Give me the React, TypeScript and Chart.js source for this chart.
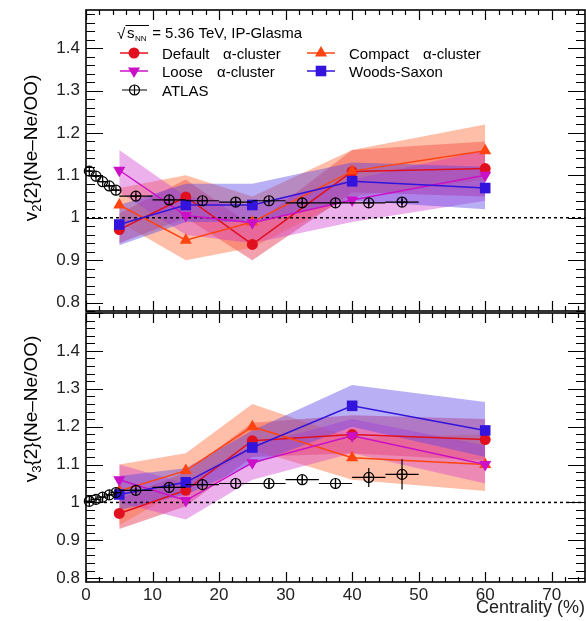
import React, { useEffect, useRef } from 'react';
import { Chart, registerables } from 'chart.js';

Chart.register(...registerables);

// ---------------- data ----------------
const centrality = [5, 15, 25, 40, 60];

// v2 ratio (top panel)
const v2Default = [0.972, 1.049, 0.937, 1.109, 1.116];
const v2DefaultLo = [0.94, 1.0, 0.9, 1.06, 1.05];
const v2DefaultHi = [1.01, 1.09, 0.98, 1.16, 1.18];
const v2Compact = [1.03, 0.947, 0.99, 1.11, 1.158];
const v2CompactLo = [0.99, 0.9, 0.93, 1.05, 1.09];
const v2CompactHi = [1.07, 1.1, 1.05, 1.16, 1.22];
const v2Loose = [1.112, 1.005, 0.988, 1.042, 1.1];
const v2LooseLo = [1.06, 0.96, 0.94, 0.99, 1.04];
const v2LooseHi = [1.16, 1.05, 1.03, 1.09, 1.16];
const v2WS = [0.984, 1.03, 1.03, 1.086, 1.07];
const v2WSLo = [0.935, 0.99, 0.99, 1.04, 1.02];
const v2WSHi = [1.03, 1.08, 1.08, 1.13, 1.12];

// v3 ratio (bottom panel)
const v3Default = [0.971, 1.032, 1.163, 1.179, 1.166];
const v3DefaultLo = [0.93, 0.99, 1.12, 1.13, 1.11];
const v3DefaultHi = [1.01, 1.08, 1.21, 1.23, 1.22];
const v3Compact = [1.03, 1.084, 1.2, 1.118, 1.1];
const v3CompactLo = [0.94, 1.04, 1.14, 1.06, 1.03];
const v3CompactHi = [1.1, 1.13, 1.26, 1.17, 1.18];
const v3Loose = [1.06, 1.005, 1.105, 1.176, 1.1];
const v3LooseLo = [1.0, 0.955, 1.06, 1.13, 1.05];
const v3LooseHi = [1.1, 1.05, 1.15, 1.22, 1.15];
const v3WS = [1.021, 1.053, 1.145, 1.255, 1.19];
const v3WSLo = [0.98, 1.02, 1.1, 1.2, 1.12];
const v3WSHi = [1.07, 1.09, 1.19, 1.31, 1.265];

// ATLAS data
const atlasX = [0.5, 1.5, 2.5, 3.5, 4.5, 7.5, 12.5, 17.5, 22.5, 27.5, 32.5, 37.5, 42.5, 47.5];
const atlasXErr = [0.5, 0.5, 0.5, 0.5, 0.5, 2.5, 2.5, 2.5, 2.5, 2.5, 2.5, 2.5, 2.5, 2.5];
const atlasV2 = [1.11, 1.098, 1.085, 1.075, 1.065, 1.051, 1.042, 1.04, 1.037, 1.04, 1.035, 1.035, 1.035, 1.037];
const atlasV2Err = [0.004, 0.004, 0.004, 0.004, 0.004, 0.004, 0.004, 0.004, 0.004, 0.004, 0.005, 0.005, 0.006, 0.007];
const atlasV3 = [1.003, 1.008, 1.014, 1.02, 1.026, 1.032, 1.04, 1.047, 1.05, 1.05, 1.06, 1.05, 1.066, 1.074];
const atlasV3Err = [0.005, 0.005, 0.005, 0.005, 0.005, 0.006, 0.006, 0.007, 0.008, 0.01, 0.01, 0.012, 0.025, 0.04];

// reference line
const refX = [0, 75];
const refY = [1, 1];

const seriesNames = ['Default', 'Compact', 'Loose', 'Woods-Saxon', 'ATLAS'];
const clusterSuffix = 'α-cluster';
const headerText = ' = 5.36 TeV, IP-Glasma';
const xTitle = 'Centrality (%)';

// ---------------- styles ----------------
const FONT = '"Liberation Sans", Arial, Helvetica, sans-serif';
const C_DEF = '#e0101e';
const C_CMP = '#ff4412';
const C_LOO = '#cc10c8';
const C_WS = '#3214dc';
const B_DEF = 'rgba(225,30,60,0.42)';
const B_CMP = 'rgba(255,110,60,0.45)';
const B_LOO = 'rgba(205,50,205,0.38)';
const B_WS = 'rgba(85,65,230,0.42)';

type Sty = 'circle' | 'triangle' | 'triangleDown' | 'rect';

function drawMarker(ctx: CanvasRenderingContext2D, s: Sty, x: number, y: number, r: number, color: string) {
  ctx.save();
  ctx.fillStyle = color;
  ctx.beginPath();
  if (s === 'circle') {
    ctx.arc(x, y, r, 0, Math.PI * 2);
  } else if (s === 'rect') {
    const h = r * Math.SQRT1_2;
    ctx.rect(x - h, y - h, 2 * h, 2 * h);
  } else {
    const sign = s === 'triangle' ? 1 : -1;
    let a = 0;
    for (let i = 0; i < 3; i++) {
      const px = x + Math.sin(a) * r;
      const py = y - sign * Math.cos(a) * r;
      if (i === 0) ctx.moveTo(px, py);
      else ctx.lineTo(px, py);
      a += (2 * Math.PI) / 3;
    }
    ctx.closePath();
  }
  ctx.fill();
  ctx.restore();
}

function modelSets(label: string, ys: number[], lo: number[], hi: number[], color: string, band: string, style: string, rot: number, radius: number, order: number) {
  return [
    {
      label: label + ' upper',
      data: centrality.map((x, i) => ({ x, y: hi[i] })),
      borderWidth: 0,
      borderColor: 'rgba(0,0,0,0)',
      pointRadius: 0,
      fill: false,
      order: order + 10,
    },
    {
      label: label + ' lower',
      data: centrality.map((x, i) => ({ x, y: lo[i] })),
      borderWidth: 0,
      borderColor: 'rgba(0,0,0,0)',
      backgroundColor: band,
      pointRadius: 0,
      fill: '-1',
      order: order + 10,
    },
    {
      label,
      data: centrality.map((x, i) => ({ x, y: ys[i] })),
      borderColor: color,
      borderWidth: 1.5,
      pointStyle: style,
      pointRotation: rot,
      pointRadius: radius,
      pointBackgroundColor: color,
      pointBorderColor: color,
      pointBorderWidth: 0,
      fill: false,
      clip: false,
      order,
    },
  ];
}

function atlasSets(ys: number[]) {
  const data = atlasX.map((x, i) => ({ x, y: ys[i] }));
  return [
    {
      label: 'ATLAS',
      data,
      showLine: false,
      pointStyle: 'circle',
      pointRadius: 5,
      pointBackgroundColor: 'rgba(0,0,0,0)',
      pointBorderColor: '#000',
      pointBorderWidth: 1.2,
      clip: false,
      order: 0,
    },
    {
      label: 'ATLAS cross',
      data,
      showLine: false,
      pointStyle: 'cross',
      pointRadius: 5,
      pointBorderColor: '#000',
      pointBorderWidth: 1.2,
      clip: false,
      order: 0,
    },
  ];
}

function drawYTitle(ctx: CanvasRenderingContext2D, cx: number, cy: number, sub: string) {
  ctx.save();
  ctx.translate(cx, cy);
  ctx.rotate(-Math.PI / 2);
  const big = `19px ${FONT}`;
  const small = `13px ${FONT}`;
  const rest = '{2}(Ne–Ne/OO)';
  ctx.font = big;
  const w1 = ctx.measureText('v').width;
  const w3 = ctx.measureText(rest).width;
  ctx.font = small;
  const w2 = ctx.measureText(sub).width;
  let x = -(w1 + w2 + w3) / 2;
  const base = 6;
  ctx.fillStyle = '#000';
  ctx.textBaseline = 'alphabetic';
  ctx.font = big;
  ctx.fillText('v', x, base);
  x += w1;
  ctx.font = small;
  ctx.fillText(sub, x, base + 4);
  x += w2;
  ctx.font = big;
  ctx.fillText(rest, x, base);
  ctx.restore();
}

function drawLegend(ctx: CanvasRenderingContext2D) {
  ctx.save();
  ctx.fillStyle = '#000';
  ctx.strokeStyle = '#000';
  ctx.textBaseline = 'alphabetic';
  // header
  const hb = 38;
  ctx.font = `15px ${FONT}`;
  ctx.fillText('√', 117, hb + 1);
  ctx.lineWidth = 1;
  ctx.beginPath();
  ctx.moveTo(125.5, hb - 12.5);
  ctx.lineTo(149, hb - 12.5);
  ctx.stroke();
  ctx.fillText('s', 127, hb);
  ctx.font = `8px ${FONT}`;
  ctx.fillText('NN', 135, hb + 3);
  ctx.font = `15px ${FONT}`;
  ctx.fillText(headerText, 148, hb);

  const entry = (x0: number, y: number, color: string, sty: Sty, r: number, name: string, suffixX: number | null) => {
    ctx.save();
    ctx.strokeStyle = color;
    ctx.lineWidth = 1.5;
    ctx.beginPath();
    ctx.moveTo(x0, y);
    ctx.lineTo(x0 + 28, y);
    ctx.stroke();
    ctx.restore();
    drawMarker(ctx, sty, x0 + 14, y, r, color);
    ctx.fillStyle = '#000';
    ctx.font = `15px ${FONT}`;
    ctx.fillText(name, x0 + 42, y + 5.5);
    if (suffixX !== null) ctx.fillText(clusterSuffix, suffixX, y + 5.5);
  };
  entry(120, 53, C_DEF, 'circle', 5.5, seriesNames[0], 223);
  entry(307, 53, C_CMP, 'triangle', 7, seriesNames[1], 423);
  entry(120, 71, C_LOO, 'triangleDown', 7, seriesNames[2], 217);
  entry(307, 71, C_WS, 'rect', 7.5, seriesNames[3], null);
  // ATLAS entry
  const ay = 90;
  ctx.lineWidth = 1.2;
  ctx.beginPath();
  ctx.moveTo(122, ay);
  ctx.lineTo(147, ay);
  ctx.moveTo(134.5, ay - 5);
  ctx.lineTo(134.5, ay + 5);
  ctx.stroke();
  ctx.beginPath();
  ctx.arc(134.5, ay, 5, 0, Math.PI * 2);
  ctx.stroke();
  ctx.font = `15px ${FONT}`;
  ctx.fillText(seriesNames[4], 162, ay + 5.5);
  ctx.restore();
}

function makeDecor(opts: { titleSub: string; titleCy: number; legend: boolean; atlasY: number[]; atlasYErr: number[] }) {
  return {
    id: 'decor',
    afterDatasetsDraw(chart: any) {
      const ctx: CanvasRenderingContext2D = chart.ctx;
      const xs = chart.scales.x;
      const ys = chart.scales.y;
      // ATLAS error bars
      ctx.save();
      ctx.strokeStyle = '#000';
      ctx.lineWidth = 1.2;
      ctx.beginPath();
      atlasX.forEach((x, i) => {
        const y = ys.getPixelForValue(opts.atlasY[i]);
        const xl = xs.getPixelForValue(x - atlasXErr[i]);
        const xr = xs.getPixelForValue(x + atlasXErr[i]);
        ctx.moveTo(xl, y);
        ctx.lineTo(xr, y);
        const px = xs.getPixelForValue(x);
        const yt = ys.getPixelForValue(opts.atlasY[i] + opts.atlasYErr[i]);
        const yb = ys.getPixelForValue(opts.atlasY[i] - opts.atlasYErr[i]);
        ctx.moveTo(px, yt);
        ctx.lineTo(px, yb);
      });
      ctx.stroke();
      ctx.restore();
    },
    afterDraw(chart: any) {
      const ctx: CanvasRenderingContext2D = chart.ctx;
      const a = chart.chartArea;
      const xs = chart.scales.x;
      const ys = chart.scales.y;
      ctx.save();
      ctx.strokeStyle = '#000';
      ctx.lineWidth = 1.2;
      ctx.beginPath();
      // y ticks (left and right, inward)
      const kMin = Math.ceil(ys.min * 50 - 1e-6);
      const kMax = Math.floor(ys.max * 50 + 1e-6);
      for (let k = kMin; k <= kMax; k++) {
        const y = Math.round(ys.getPixelForValue(k / 50)) + 0.5;
        const len = k % 5 === 0 ? 17 : 9;
        ctx.moveTo(a.left, y);
        ctx.lineTo(a.left + len, y);
        ctx.moveTo(a.right, y);
        ctx.lineTo(a.right - len, y);
      }
      // x ticks (top and bottom, inward)
      for (let v = 0; v <= 75; v += 2) {
        const x = Math.round(xs.getPixelForValue(v)) + 0.5;
        const len = v % 10 === 0 ? 10 : 5;
        ctx.moveTo(x, a.bottom);
        ctx.lineTo(x, a.bottom - len);
        ctx.moveTo(x, a.top);
        ctx.lineTo(x, a.top + len);
      }
      ctx.stroke();
      ctx.lineWidth = 1.6;
      ctx.strokeRect(a.left, a.top, a.right - a.left, a.bottom - a.top);
      ctx.restore();
      drawYTitle(ctx, 31, opts.titleCy, opts.titleSub);
      if (opts.legend) drawLegend(ctx);
    },
  };
}

function yTickLabel(v: any) {
  const r = Math.round(Number(v) * 10) / 10;
  if (r > 1.45) return '';
  return String(r);
}

function buildConfig(panel: 'top' | 'bottom') {
  const top = panel === 'top';
  const datasets: any[] = [
    ...atlasSets(top ? atlasV2 : atlasV3),
    {
      label: 'ref',
      data: refX.map((x, i) => ({ x, y: refY[i] })),
      borderColor: '#000',
      borderWidth: 1.5,
      borderDash: [3, 3],
      pointRadius: 0,
      fill: false,
      order: 5,
    },
    ...modelSets('Default α-cluster', top ? v2Default : v3Default, top ? v2DefaultLo : v3DefaultLo, top ? v2DefaultHi : v3DefaultHi, C_DEF, B_DEF, 'circle', 0, 5.5, 4),
    ...modelSets('Compact α-cluster', top ? v2Compact : v3Compact, top ? v2CompactLo : v3CompactLo, top ? v2CompactHi : v3CompactHi, C_CMP, B_CMP, 'triangle', 0, 7, 3),
    ...modelSets('Loose α-cluster', top ? v2Loose : v3Loose, top ? v2LooseLo : v3LooseLo, top ? v2LooseHi : v3LooseHi, C_LOO, B_LOO, 'triangle', 180, 7, 2),
    ...modelSets('Woods-Saxon', top ? v2WS : v3WS, top ? v2WSLo : v3WSLo, top ? v2WSHi : v3WSHi, C_WS, B_WS, 'rect', 0, 7.5, 1),
  ];
  return {
    type: 'line' as const,
    data: { datasets },
    options: {
      animation: false as const,
      responsive: false,
      maintainAspectRatio: false,
      devicePixelRatio: 1,
      events: [],
      layout: {
        autoPadding: false,
        padding: top ? { top: 10, right: 1, bottom: 1, left: 0 } : { top: 1, right: 1, bottom: 2, left: 0 },
      },
      elements: { line: { tension: 0 } },
      plugins: { legend: { display: false }, tooltip: { enabled: false } },
      scales: {
        x: {
          type: 'linear' as const,
          min: 0,
          max: 75,
          display: !top,
          grid: { display: false, drawTicks: false },
          border: { display: false },
          ticks: {
            stepSize: 10,
            includeBounds: false,
            padding: 3,
            color: '#222',
            font: { family: FONT, size: 17 },
            maxRotation: 0,
          },
          title: {
            display: !top,
            text: xTitle,
            align: 'end' as const,
            color: '#222',
            font: { family: FONT, size: 18 },
            padding: 0,
          },
          afterFit: (s: any) => {
            s.height = top ? 0 : 37;
            s.paddingLeft = 0;
            s.paddingRight = 0;
          },
        },
        y: {
          type: 'linear' as const,
          min: top ? 0.78 : 0.79,
          max: top ? 1.49 : 1.5,
          grid: { display: false, drawTicks: false },
          border: { display: false },
          ticks: {
            stepSize: 0.1,
            includeBounds: false,
            padding: 6,
            color: '#222',
            font: { family: FONT, size: 17 },
            callback: yTickLabel,
          },
          afterFit: (s: any) => {
            s.width = 86;
            s.paddingTop = 0;
            s.paddingBottom = 0;
          },
        },
      },
    },
    plugins: [
      makeDecor({
        titleSub: top ? '2' : '3',
        titleCy: top ? 148 : 97,
        legend: top,
        atlasY: top ? atlasV2 : atlasV3,
        atlasYErr: top ? atlasV2Err : atlasV3Err,
      }),
    ],
  };
}

export default function App() {
  const topRef = useRef<HTMLCanvasElement | null>(null);
  const botRef = useRef<HTMLCanvasElement | null>(null);
  useEffect(() => {
    const c1 = new Chart(topRef.current as HTMLCanvasElement, buildConfig('top') as any);
    const c2 = new Chart(botRef.current as HTMLCanvasElement, buildConfig('bottom') as any);
    return () => {
      c1.destroy();
      c2.destroy();
    };
  }, []);
  return (
    <div style={{ position: 'fixed', left: 0, top: 0, width: 586, height: 621, background: '#fff', overflow: 'hidden' }}>
      <canvas ref={topRef} width={586} height={312} style={{ position: 'absolute', left: 0, top: 0, width: 586, height: 312 }} />
      <canvas ref={botRef} width={586} height={309} style={{ position: 'absolute', left: 0, top: 312, width: 586, height: 309 }} />
    </div>
  );
}
